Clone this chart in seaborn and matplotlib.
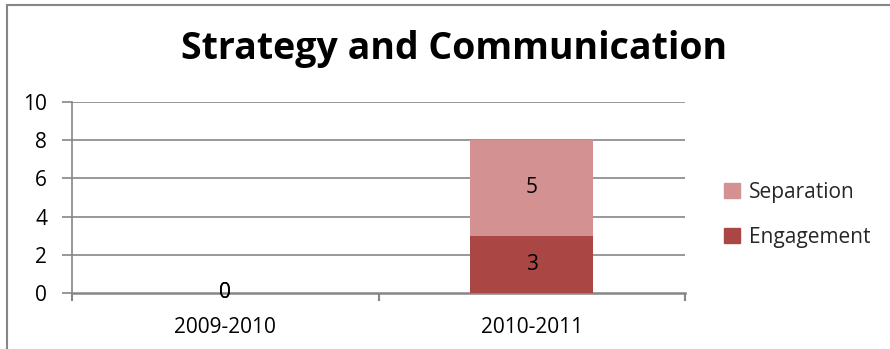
import matplotlib
matplotlib.use("Agg")
import matplotlib.pyplot as plt
from matplotlib.patches import Rectangle
import seaborn as sns
import pandas as pd
import numpy as np

# Data
periods = ["2009-2010", "2010-2011"]
engagement = [0, 3]
separation = [0, 5]
series_names = ["Separation", "Engagement"]
y_ticks = [0, 2, 4, 6, 8, 10]

sep_color = "#D39191"
eng_color = "#AA4644"
grid_color = "#868686"

sns.set_theme(style="white")
plt.rcParams["font.family"] = ["Open Sans", "DejaVu Sans"]

df = pd.DataFrame({
    "period": periods,
    "Engagement": engagement,
    "Separation": separation,
})
df["total"] = df["Engagement"] + df["Separation"]

fig = plt.figure(figsize=(8.90, 3.49), dpi=100)
ax = fig.add_axes([72 / 890, 1 - 293 / 349, (685 - 72) / 890, (293 - 102) / 349])

# Stacked bars: full stack in the Separation colour, Engagement drawn over its base
sns.barplot(data=df, x="period", y="total", color=sep_color, saturation=1,
            width=0.4, ax=ax, zorder=3, linewidth=0)
sns.barplot(data=df, x="period", y="Engagement", color=eng_color, saturation=1,
            width=0.4, ax=ax, zorder=3, linewidth=0)

label_size = 15

# Segment value labels
for i in range(len(periods)):
    e = engagement[i]
    s = separation[i]
    ax.text(i, e / 2, str(e), ha="center", va="center", fontsize=label_size,
            color="black", zorder=5)
    ax.text(i, e + s / 2, str(s), ha="center", va="center", fontsize=label_size,
            color="black", zorder=5)

ax.set_ylim(0, 10)
ax.set_xlim(-0.5, len(periods) - 0.5)
ax.set_yticks(y_ticks)
ax.set_yticklabels([str(t) for t in y_ticks], fontsize=label_size)
for t in y_ticks[1:]:
    ax.axhline(t, color=grid_color, lw=1.2, zorder=1)

# Category labels between boundary ticks
ax.set_xticks(np.arange(-0.5, len(periods)), labels=[""] * (len(periods) + 1))
ax.set_xticks(range(len(periods)), labels=periods, minor=True)
ax.tick_params(axis="x", which="minor", bottom=True, length=0, pad=17,
               labelsize=label_size, labelcolor="black")
ax.tick_params(axis="x", which="major", bottom=True, length=6, width=1.5,
               color=grid_color, direction="out")
ax.tick_params(axis="y", left=True, length=7, width=1.2, color=grid_color,
               direction="out", pad=11, labelcolor="black")

ax.set_xlabel("")
ax.set_ylabel("")
for side in ["top", "right"]:
    ax.spines[side].set_visible(False)
for side in ["left", "bottom"]:
    ax.spines[side].set_visible(True)
    ax.spines[side].set_color(grid_color)
ax.spines["left"].set_linewidth(1.2)
ax.spines["bottom"].set_linewidth(1.8)

# Legend
handles = [Rectangle((0, 0), 1, 1, color=sep_color),
           Rectangle((0, 0), 1, 1, color=eng_color)]
fig.legend(handles, series_names, loc="center left",
           bbox_to_anchor=(716 / 890, 1 - 215 / 349), frameon=False,
           fontsize=label_size, handlelength=0.75, handleheight=0.75,
           handletextpad=0.45, labelspacing=1.15, borderaxespad=0)

# Title
fig.text(454 / 890, 1 - 49 / 349, "Strategy and Communication", ha="center",
         va="center", fontsize=27, fontweight="bold", color="black")

# Chart-area border
fig.patches.append(Rectangle((7 / 890, -0.1), 1.0, 1 - 5 / 349 + 0.1,
                             transform=fig.transFigure, fill=False,
                             edgecolor=grid_color, lw=1.5))

fig.savefig("out.png", dpi=100)
